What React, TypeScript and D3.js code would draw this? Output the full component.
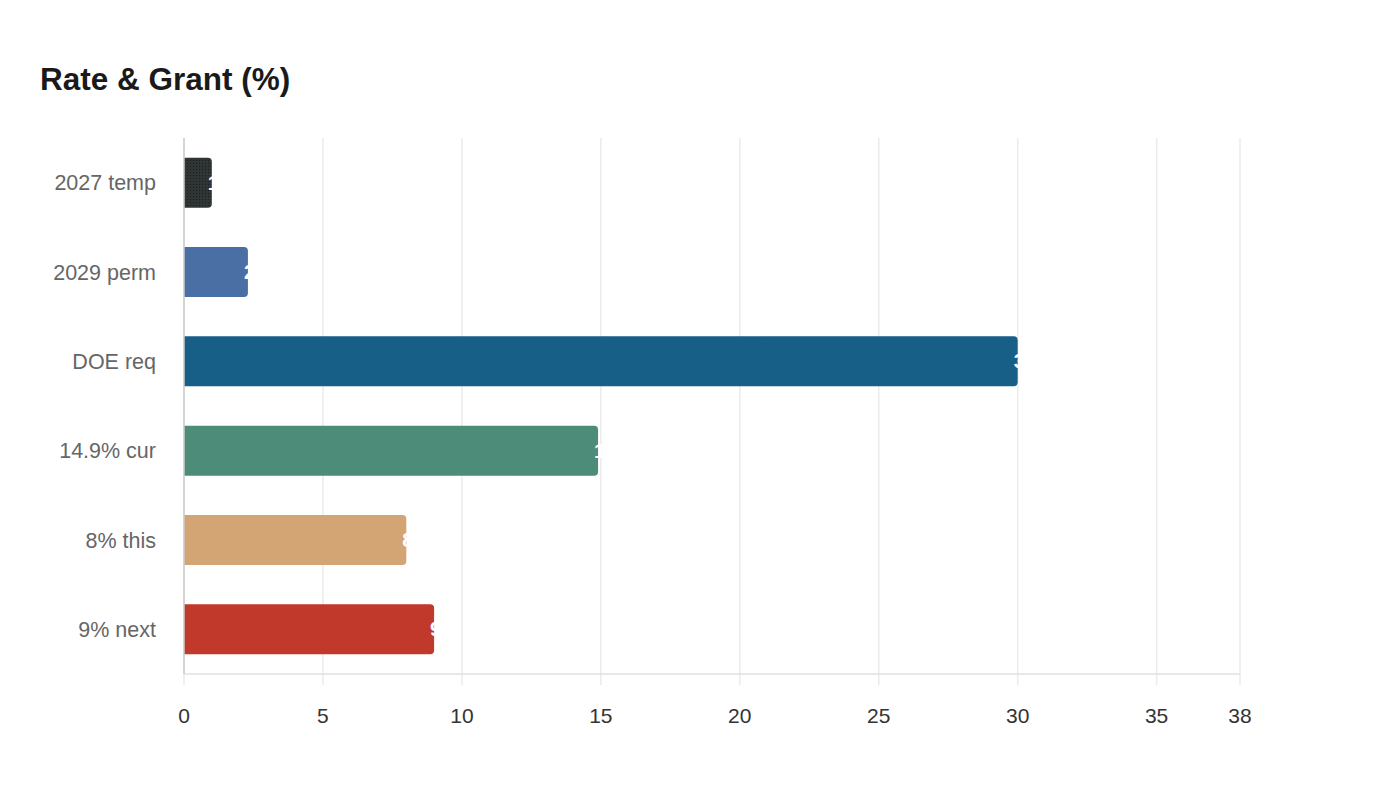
import React, { useEffect, useRef } from "react";
import * as d3 from "d3";

const categories = ["2027 temp", "2029 perm", "DOE req", "14.9% cur", "8% this", "9% next"];
const values = [1, 2.3, 30, 14.9, 8, 9];
const barColors = ["#2f3535", "#4a6fa5", "#175f87", "#4e8c7a", "#d4a574", "#c0392b"];
const tickValues = [0, 5, 10, 15, 20, 25, 30, 35, 38];

const FONT = "'Liberation Sans', Arial, Helvetica, sans-serif";

export default function App() {
    const svgRef = useRef<SVGSVGElement | null>(null);

    useEffect(() => {
        if (!svgRef.current) return;
        const width = 1400;
        const height = 800;
        const margin = { top: 138, right: 160, bottom: 126, left: 184 };

        const svg = d3.select(svgRef.current);
        svg.selectAll("*").remove();

        // dotted pattern for the first bar
        const defs = svg.append("defs");
        const pat = defs.append("pattern")
            .attr("id", "dots")
            .attr("width", 3)
            .attr("height", 3)
            .attr("patternUnits", "userSpaceOnUse");
        pat.append("rect").attr("width", 3).attr("height", 3).attr("fill", barColors[0]);
        pat.append("rect").attr("x", 1).attr("y", 1).attr("width", 1).attr("height", 1).attr("fill", "#1a1e1e");

        svg.append("rect").attr("width", width).attr("height", height).attr("fill", "#fff");

        svg.append("text")
            .attr("x", 40)
            .attr("y", 90)
            .attr("font-family", FONT)
            .attr("font-size", 31.5)
            .attr("font-weight", "bold")
            .attr("fill", "#1a1a1a")
            .text("Rate & Grant (%)");

        const x = d3.scaleLinear()
            .domain([0, 38])
            .range([margin.left, width - margin.right]);

        const y = d3.scaleBand()
            .domain(categories)
            .range([margin.top, height - margin.bottom])
            .paddingInner(0.44)
            .paddingOuter(0.22);

        const plotBottom = height - margin.bottom;

        // gridlines
        svg.append("g")
            .selectAll("line")
            .data(tickValues)
            .join("line")
            .attr("x1", d => x(d))
            .attr("x2", d => x(d))
            .attr("y1", margin.top)
            .attr("y2", plotBottom + 11)
            .attr("stroke", "#ebebeb")
            .attr("stroke-width", 1.5);

        // x axis line
        svg.append("line")
            .attr("x1", x(0))
            .attr("x2", x(38))
            .attr("y1", plotBottom)
            .attr("y2", plotBottom)
            .attr("stroke", "#e0e0e0")
            .attr("stroke-width", 1.5);

        // tick labels
        svg.append("g")
            .selectAll("text")
            .data(tickValues)
            .join("text")
            .attr("x", d => x(d))
            .attr("y", plotBottom + 49)
            .attr("text-anchor", "middle")
            .attr("font-family", FONT)
            .attr("font-size", 21)
            .attr("fill", "#333")
            .text(d => d);

        // bars, rounded on the right only
        const r = 4;
        const bars = svg.append("g")
            .selectAll("g")
            .data(categories)
            .join("g");

        bars.append("path")
            .attr("d", (d, i) => {
                const x0 = x(0);
                const x1 = x(values[i]);
                const y0 = y(d)!;
                const h = y.bandwidth();
                const p = d3.path();
                p.moveTo(x0, y0);
                p.lineTo(x1 - r, y0);
                p.arcTo(x1, y0, x1, y0 + r, r);
                p.lineTo(x1, y0 + h - r);
                p.arcTo(x1, y0 + h, x1 - r, y0 + h, r);
                p.lineTo(x0, y0 + h);
                p.closePath();
                return p.toString();
            })
            .attr("fill", (d, i) => (i === 0 ? "url(#dots)" : barColors[i]));

        // value labels (white, starting at bar end)
        bars.append("text")
            .attr("x", (d, i) => x(values[i]) - 4)
            .attr("y", d => y(d)! + y.bandwidth() / 2)
            .attr("dy", "0.35em")
            .attr("font-family", FONT)
            .attr("font-size", 20)
            .attr("font-weight", "bold")
            .attr("fill", "#fff")
            .text((d, i) => values[i]);

        // y axis line
        svg.append("line")
            .attr("x1", x(0))
            .attr("x2", x(0))
            .attr("y1", margin.top)
            .attr("y2", plotBottom)
            .attr("stroke", "#cccccc")
            .attr("stroke-width", 1.5);

        // category labels
        svg.append("g")
            .selectAll("text")
            .data(categories)
            .join("text")
            .attr("x", margin.left - 28)
            .attr("y", d => y(d)! + y.bandwidth() / 2)
            .attr("dy", "0.35em")
            .attr("text-anchor", "end")
            .attr("font-family", FONT)
            .attr("font-size", 21.5)
            .attr("fill", "#666")
            .text(d => d);
    }, []);

    return (
        <svg ref={svgRef} width={1400} height={800} style={{ display: "block", margin: "-8px" }} />
    );
}
